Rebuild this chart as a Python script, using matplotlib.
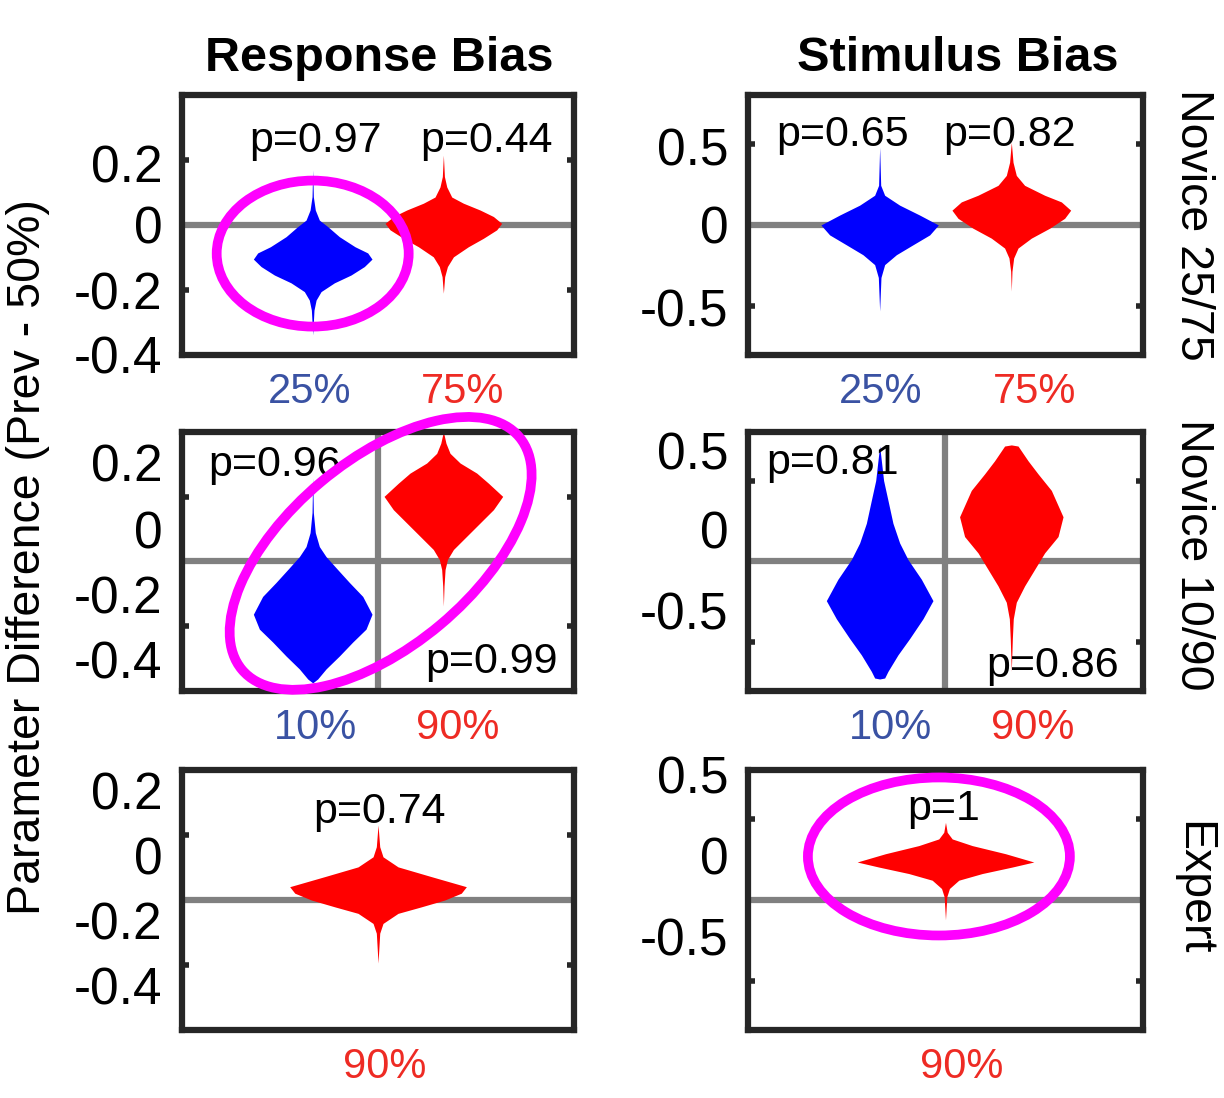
import matplotlib
matplotlib.use("Agg")
import matplotlib.pyplot as plt
from matplotlib.patches import Ellipse
from matplotlib.transforms import ScaledTranslation

plt.rcParams['font.family'] = ['Liberation Sans', 'DejaVu Sans']

# ---- violin outlines: y level and half width (x units) ----
rb_n25_lo_y = [0.169, 0.087, 0.046, 0.015, -0.005, -0.036, -0.067, -0.086, -0.105, -0.128, -0.154, -0.178, -0.205, -0.231, -0.262, -0.338]
rb_n25_lo_w = [0, 0.005, 0.020, 0.051, 0.115, 0.204, 0.324, 0.421, 0.454, 0.395, 0.293, 0.166, 0.064, 0.026, 0.010, 0]
rb_n25_hi_y = [0.215, 0.149, 0.117, 0.086, 0.067, 0.046, 0.026, 0.005, -0.015, -0.041, -0.067, -0.098, -0.128, -0.159, -0.210]
rb_n25_hi_w = [0, 0.008, 0.026, 0.064, 0.153, 0.281, 0.383, 0.446, 0.408, 0.306, 0.191, 0.077, 0.031, 0.010, 0]

rb_n10_lo_y = [0.258, 0.151, 0.089, 0.046, 0.015, -0.025, -0.065, -0.108, -0.163, -0.209, -0.249, -0.292, -0.332, -0.363, -0.375]
rb_n10_lo_w = [0, 0.005, 0.020, 0.051, 0.102, 0.191, 0.281, 0.383, 0.454, 0.408, 0.306, 0.204, 0.102, 0.038, 0]
rb_n10_hi_y = [0.401, 0.365, 0.334, 0.304, 0.273, 0.242, 0.201, 0.160, 0.119, 0.078, 0.037, 0.006, -0.025, -0.076, -0.138]
rb_n10_hi_w = [0, 0.020, 0.051, 0.128, 0.255, 0.344, 0.454, 0.383, 0.281, 0.179, 0.077, 0.031, 0.013, 0.005, 0]

rb_exp_y = [0.231, 0.164, 0.133, 0.102, 0.072, 0.041, 0.021, 0.0, -0.021, -0.041, -0.072, -0.102, -0.194]
rb_exp_w = [0, 0.013, 0.038, 0.153, 0.408, 0.676, 0.637, 0.510, 0.331, 0.153, 0.038, 0.013, 0]

sb_n25_lo_y = [0.478, 0.244, 0.183, 0.122, 0.061, 0.0, -0.061, -0.122, -0.183, -0.244, -0.323, -0.529]
sb_n25_lo_w = [0, 0.008, 0.038, 0.152, 0.304, 0.446, 0.380, 0.253, 0.127, 0.038, 0.010, 0]
sb_n25_hi_y = [0.508, 0.386, 0.305, 0.244, 0.183, 0.142, 0.091, 0.041, -0.020, -0.081, -0.142, -0.203, -0.285, -0.407]
sb_n25_hi_w = [0, 0.013, 0.038, 0.101, 0.253, 0.380, 0.451, 0.405, 0.291, 0.152, 0.051, 0.018, 0.005, 0]

sb_n10_lo_y = [0.713, 0.622, 0.500, 0.378, 0.236, 0.114, 0.012, -0.110, -0.242, -0.354, -0.476, -0.577, -0.679, -0.720, -0.726]
sb_n10_lo_w = [0, 0.013, 0.030, 0.063, 0.101, 0.152, 0.215, 0.317, 0.405, 0.329, 0.228, 0.139, 0.063, 0.038, 0]
sb_n10_hi_y = [0.720, 0.713, 0.622, 0.541, 0.439, 0.276, 0.154, 0.053, -0.049, -0.151, -0.252, -0.354, -0.476, -0.679]
sb_n10_hi_w = [0, 0.051, 0.127, 0.203, 0.304, 0.393, 0.355, 0.253, 0.177, 0.101, 0.038, 0.015, 0.008, 0]

sb_exp_y = [0.478, 0.417, 0.376, 0.335, 0.285, 0.234, 0.203, 0.163, 0.122, 0.071, 0.020, -0.122]
sb_exp_w = [0, 0.013, 0.051, 0.203, 0.456, 0.671, 0.507, 0.279, 0.101, 0.030, 0.010, 0]

# ---- p values ----
p_rb_n25 = ['p=0.97', 'p=0.44']
p_rb_n10 = ['p=0.96', 'p=0.99']
p_rb_exp = ['p=0.74']
p_sb_n25 = ['p=0.65', 'p=0.82']
p_sb_n10 = ['p=0.81', 'p=0.86']
p_sb_exp = ['p=1']

# ---- axis labels ----
col_titles = ['Response Bias', 'Stimulus Bias']
row_titles = ['Novice 25/75', 'Novice 10/90', 'Expert']
ylabel = 'Parameter Difference (Prev - 50%)'
rb_ticklabels = ['0.2', '0', '-0.2', '-0.4']
sb_ticklabels = ['0.5', '0', '-0.5']

BLUE = '#0000ff'
RED = '#ff0000'
LBL_BLUE = '#3a52a3'
LBL_RED = '#ee2b24'

panels = [
    # row 1
    dict(pos=[0.1487, 0.6767, 0.3203, 0.2368], ylim=0.4, marks=[-0.2, 0.2],
         lblpos=[0.19, 0.0, -0.201, -0.4], lbls=rb_ticklabels,
         violins=[(1, rb_n25_lo_y, rb_n25_lo_w, BLUE), (2, rb_n25_hi_y, rb_n25_hi_w, RED)],
         xlbl=[(0.98, '25%', LBL_BLUE), (2.15, '75%', LBL_RED)],
         ptext=[(1.025, 0.258, p_rb_n25[0]), (2.33, 0.258, p_rb_n25[1])], vline=False),
    dict(pos=[0.6111, 0.6767, 0.3227, 0.2368], ylim=0.8, marks=[-0.5, 0.5],
         lblpos=[0.48, 0.0, -0.505], lbls=sb_ticklabels,
         violins=[(1, sb_n25_lo_y, sb_n25_lo_w, BLUE), (2, sb_n25_hi_y, sb_n25_hi_w, RED)],
         xlbl=[(1.01, '25%', LBL_BLUE), (2.18, '75%', LBL_RED)],
         ptext=[(0.72, 0.555, p_sb_n25[0]), (1.99, 0.555, p_sb_n25[1])], vline=False),
    # row 2
    dict(pos=[0.1487, 0.3707, 0.3203, 0.2359], ylim=0.4, marks=[-0.2, 0.2],
         lblpos=[0.305, 0.098, -0.102, -0.302], lbls=rb_ticklabels,
         violins=[(1, rb_n10_lo_y, rb_n10_lo_w, BLUE), (2, rb_n10_hi_y, rb_n10_hi_w, RED)],
         xlbl=[(1.02, '10%', LBL_BLUE), (2.11, '90%', LBL_RED)],
         ptext=[(0.71, 0.298, p_rb_n10[0]), (2.37, -0.311, p_rb_n10[1])], vline=True),
    dict(pos=[0.6111, 0.3707, 0.3227, 0.2359], ylim=0.8, marks=[-0.5, 0.5],
         lblpos=[0.683, 0.195, -0.305], lbls=sb_ticklabels,
         violins=[(1, sb_n10_lo_y, sb_n10_lo_w, BLUE), (2, sb_n10_hi_y, sb_n10_hi_w, RED)],
         xlbl=[(1.08, '10%', LBL_BLUE), (2.16, '90%', LBL_RED)],
         ptext=[(0.64, 0.61, p_sb_n10[0]), (2.31, -0.647, p_sb_n10[1])], vline=True),
    # row 3
    dict(pos=[0.1487, 0.0619, 0.3203, 0.2368], ylim=0.4, marks=[-0.2, 0.2],
         lblpos=[0.338, 0.138, -0.062, -0.262], lbls=rb_ticklabels,
         violins=[(1.5, rb_exp_y, rb_exp_w, RED)],
         xlbl=[(1.55, '90%', LBL_RED)],
         ptext=[(1.51, 0.271, p_rb_exp[0])], vline=False),
    dict(pos=[0.6111, 0.0619, 0.3227, 0.2368], ylim=0.8, marks=[-0.5, 0.5],
         lblpos=[0.775, 0.275, -0.226], lbls=sb_ticklabels,
         violins=[(1.5, sb_exp_y, sb_exp_w, RED)],
         xlbl=[(1.62, '90%', LBL_RED)],
         ptext=[(1.49, 0.561, p_sb_exp[0])], vline=False),
]

fig = plt.figure(figsize=(12.24, 10.98), dpi=100)
axes = []
for p in panels:
    ax = fig.add_axes(p['pos'])
    axes.append(ax)
    ax.set_xlim(0, 3)
    ax.set_ylim(-p['ylim'], p['ylim'])
    ax.axhline(0, color='#808080', lw=4.5, zorder=1)
    if p['vline']:
        ax.axvline(1.5, color='#808080', lw=4.5, zorder=1)
    for xc, ys, ws, col in p['violins']:
        ax.fill_betweenx(ys, [xc - w for w in ws], [xc + w for w in ws],
                         color=col, lw=0, zorder=2)
    for x, y, s in p['ptext']:
        ax.text(x, y, s, ha='center', va='center', fontsize=31, zorder=3)
    # tick marks on the frame, labels placed separately as minor ticks
    ax.set_yticks(p['marks'], labels=['' for _ in p['marks']])
    ax.set_yticks(p['lblpos'], labels=p['lbls'], minor=True)
    ax.tick_params(axis='y', which='major', direction='in', length=5, width=4,
                   left=True, right=True, color='#262626')
    ax.tick_params(axis='y', which='minor', length=0, pad=14, labelsize=37)
    ax.set_xticks([t[0] for t in p['xlbl']], labels=[t[1] for t in p['xlbl']])
    ax.tick_params(axis='x', length=0, pad=12, labelsize=30)
    for tl, t in zip(ax.get_xticklabels(), p['xlbl']):
        tl.set_color(t[2])
    for sp in ax.spines.values():
        sp.set_linewidth(4.5)
        sp.set_color('#262626')
        sp.set_zorder(4)

# highlight ellipses (sizes in inches, centred on data points)
highlights = [
    (0, 1.0, -0.088, 1.92, 1.46, 0),
    (2, 1.52, 0.025, 3.62, 1.86, 40),
    (5, 1.45, 0.268, 2.62, 1.58, 0),
]
for idx, cx, cy, w, h, ang in highlights:
    ax = axes[idx]
    tr = fig.dpi_scale_trans + ScaledTranslation(cx, cy, ax.transData)
    e = Ellipse((0, 0), w, h, angle=ang, transform=tr, fill=False,
                edgecolor='#ff00ff', lw=7, zorder=10, clip_on=False)
    fig.add_artist(e)

fig.text(0.3096, 0.947, col_titles[0], ha='center', va='center', fontsize=35, fontweight='bold')
fig.text(0.7827, 0.947, col_titles[1], ha='center', va='center', fontsize=35, fontweight='bold')
for y, s in zip([0.795, 0.4945, 0.191], row_titles):
    fig.text(0.975, y, s, ha='center', va='center', rotation=-90, fontsize=33.5)
fig.text(0.0229, 0.493, ylabel, ha='center', va='center', rotation=90, fontsize=33.5)

fig.savefig('out.png', dpi=100, facecolor='white')
